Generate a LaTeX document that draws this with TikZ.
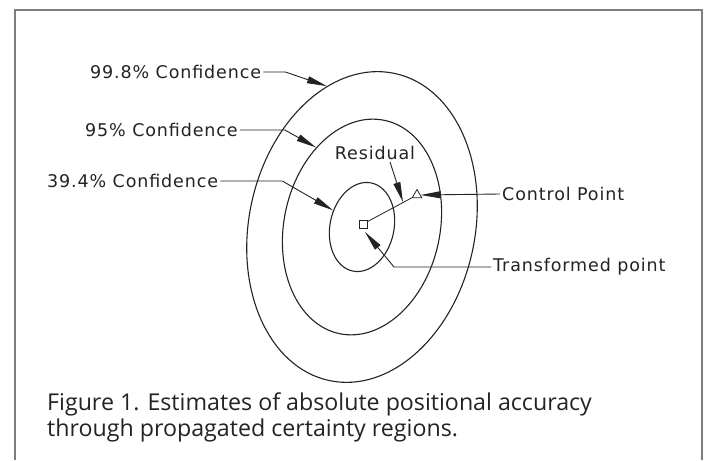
\documentclass[tikz,border=0pt]{standalone}
\usepackage{fontspec}
\setmainfont{DejaVu Sans}
\newfontfamily\capfont{Open Sans}
\usepackage{xcolor}
\definecolor{ink}{RGB}{35, 35, 35}
\definecolor{framegray}{RGB}{125, 125, 125}
\usepackage{tikz}
\usetikzlibrary{shapes.geometric,arrows.meta,positioning}

\begin{document}
\begin{tikzpicture}[x=1pt, y=-1pt,
  region/.style={ellipse, draw=ink, line width=1.1pt, rotate=-12, inner sep=0pt},
  lbl/.style={font=\fontsize{17.5}{20}\selectfont\addfontfeature{LetterSpace=5}, text=ink, inner sep=2pt},
  marker/.style={draw=ink, line width=0.8pt, inner sep=0pt},
  arrow/.style={-{Triangle[length=20pt,width=7pt]}, line width=0.9pt, color=ink}
]
\useasboundingbox (0,0) rectangle (706,460);
\draw[framegray, line width=1.2pt] (15,460) -- (15,10) -- (702,10) -- (702,460);

% certainty regions
\node[region, minimum width=226, minimum height=314] (c998) at (362,227) {};
\node[region, minimum width=156, minimum height=218] (c95) at (362,227) {};
\node[region, minimum width=64, minimum height=90] (c394) at (362,227) {};

% points
\node[marker, minimum size=8pt] (sq) at (363,224) {};
\node[marker, regular polygon, regular polygon sides=3, minimum size=11pt] (tri) at (417,195) {};
\coordinate (rtip) at (403,202);
\coordinate (ttip) at (365,232);

% labels
\node[lbl, anchor=west] (l998) at (88,72) {99.8\% Confidence};
\node[lbl, anchor=west] (l95) at (83,130) {95\% Confidence};
\node[lbl, anchor=west] (l394) at (45,181) {39.4\% Confidence};
\node[lbl] (lres) at (375,153) {Residual};
\node[lbl, anchor=west] (lcp) at (500,194) {Control Point};
\node[lbl, anchor=west] (ltp) at (491,267) {Transformed point};

\draw[arrow] (l998.east) -- ++(22,0) -- (c998.116);
\draw[arrow] (l95.east) -- ++(45,0) -- (c95.132);
\draw[arrow] (l394.east) -- ++(62,0) -- (c394.162);
\draw[ink, line width=0.8pt] (sq) -- (tri);
\draw[arrow] ([xshift=15pt]lres.south) -- (rtip);
\draw[arrow] (lcp.west) -- (tri.east);
\draw[arrow] (ltp.west) -- ++(-97,0) -- (ttip);

\node[anchor=north west, align=left, font=\capfont\fontsize{23.2}{26}\selectfont, text=ink, inner sep=0pt] (cap) at (47,393)
  {Figure 1. Estimates of absolute positional accuracy\\through propagated certainty regions.};
\end{tikzpicture}
\end{document}
